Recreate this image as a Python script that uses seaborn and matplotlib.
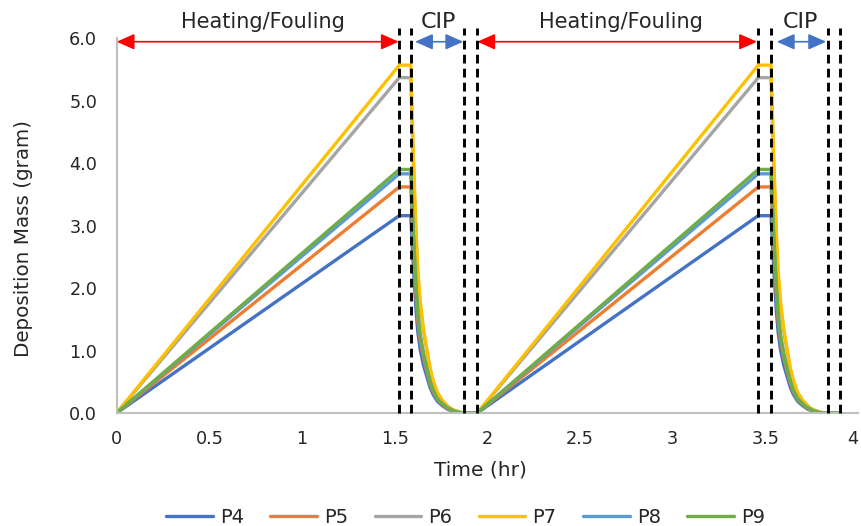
import matplotlib
matplotlib.use("Agg")
import matplotlib.pyplot as plt
import pandas as pd
import seaborn as sns

# ---- data -------------------------------------------------------------
series_names = ["P4", "P5", "P6", "P7", "P8", "P9"]
series_colors = ["#4472C4", "#ED7D31", "#A5A5A5", "#FFC000", "#5B9BD5", "#70AD47"]

# sampling times (hr): start, cycle 1 (ramp end, hold end, CIP decay, idle), cycle 2
time_start = [0.0]
time_cycle1 = [1.525, 1.587, 1.601, 1.615, 1.625, 1.637, 1.655, 1.675, 1.691,
               1.707, 1.730, 1.756, 1.785, 1.815, 1.845, 1.870, 1.946]
time_cycle2 = [3.462, 3.531, 3.545, 3.559, 3.569, 3.581, 3.599, 3.619, 3.635,
               3.651, 3.674, 3.700, 3.729, 3.759, 3.789, 3.814, 3.903]

# deposition mass (gram) over one heating/fouling + CIP cycle
p4_cycle = [3.16, 3.16, 2.34, 1.66, 1.30, 1.03, 0.77, 0.57, 0.41, 0.30, 0.19, 0.12, 0.06, 0.03, 0.01, 0.0, 0.0]
p5_cycle = [3.62, 3.62, 2.68, 1.90, 1.48, 1.18, 0.89, 0.65, 0.47, 0.34, 0.22, 0.14, 0.07, 0.03, 0.01, 0.0, 0.0]
p6_cycle = [5.37, 5.37, 3.97, 2.82, 2.20, 1.75, 1.32, 0.97, 0.70, 0.51, 0.32, 0.20, 0.11, 0.05, 0.02, 0.0, 0.0]
p7_cycle = [5.57, 5.57, 4.12, 2.93, 2.28, 1.81, 1.36, 1.00, 0.72, 0.53, 0.33, 0.21, 0.11, 0.05, 0.02, 0.0, 0.0]
p8_cycle = [3.83, 3.83, 2.83, 2.01, 1.57, 1.25, 0.94, 0.69, 0.50, 0.36, 0.23, 0.15, 0.08, 0.03, 0.01, 0.0, 0.0]
p9_cycle = [3.90, 3.90, 2.89, 2.05, 1.60, 1.27, 0.96, 0.70, 0.51, 0.37, 0.23, 0.15, 0.08, 0.04, 0.01, 0.0, 0.0]

# phase boundaries (hr)
phase_lines = [1.525, 1.587, 1.876, 1.946, 3.462, 3.531, 3.840, 3.903]
heating_spans = [(0.0, 1.522), (1.946, 3.455)]
cip_spans = [(1.610, 1.870), (3.562, 3.828)]
heating_label_x = [0.79, 2.72]
cip_label_x = [1.737, 3.687]

x_ticks = [0, 0.5, 1, 1.5, 2, 2.5, 3, 3.5, 4]
x_tick_labels = ["0", "0.5", "1", "1.5", "2", "2.5", "3", "3.5", "4"]
y_ticks = [0, 1, 2, 3, 4, 5, 6]
y_tick_labels = ["0.0", "1.0", "2.0", "3.0", "4.0", "5.0", "6.0"]

# ---- assemble long-form table -------------------------------------------
times = time_start + time_cycle1 + time_cycle2
cycles = [p4_cycle, p5_cycle, p6_cycle, p7_cycle, p8_cycle, p9_cycle]
rows = []
for name, cyc in zip(series_names, cycles):
    vals = [0.0] + cyc + cyc
    for t, v in zip(times, vals):
        rows.append({"Time": t, "Mass": v, "Series": name})
df = pd.DataFrame(rows)

# ---- figure -------------------------------------------------------------
sns.set_style("white")
plt.rcParams["font.family"] = ["DejaVu Sans"]
text_color = "#262626"
axis_color = "#BFBFBF"

fig = plt.figure(figsize=(8.61, 5.26), dpi=100)
ax = fig.add_axes([0.1355, 0.2148, 0.8610, 0.7124])

sns.lineplot(data=df, x="Time", y="Mass", hue="Series", hue_order=series_names,
             palette=series_colors, estimator=None, sort=False, linewidth=2.4,
             solid_joinstyle="round", solid_capstyle="round", ax=ax, legend=True)

ax.set_xlim(0, 4)
ax.set_ylim(0, 6)
ax.set_xticks(x_ticks)
ax.set_xticklabels(x_tick_labels)
ax.set_yticks(y_ticks)
ax.set_yticklabels(y_tick_labels)
# keep the last x label inside the figure edge
ax.get_xticklabels()[-1].set_horizontalalignment("right")

for side in ["top", "right"]:
    ax.spines[side].set_visible(False)
for side in ["left", "bottom"]:
    ax.spines[side].set_color(axis_color)
    ax.spines[side].set_linewidth(1.5)
ax.tick_params(axis="x", direction="inout", length=9, width=1.3, color=axis_color,
               labelsize=12.7, labelcolor=text_color, pad=8)
ax.tick_params(axis="y", direction="out", length=5, width=1.3, color=axis_color,
               labelsize=12.7, labelcolor=text_color, pad=9)

ax.set_xlabel("Time (hr)", fontsize=14.5, color=text_color)
ax.set_ylabel("Deposition Mass (gram)", fontsize=14.3, color=text_color)
ax.xaxis.set_label_coords(0.491, -0.128)
ax.yaxis.set_label_coords(-0.113, 0.466)

# phase boundary lines
for x in phase_lines:
    ax.axvline(x, ymin=0, ymax=1.028, color="black", linewidth=2.1,
               linestyle=(0, (3, 1.8)), clip_on=False, zorder=5)

# phase arrows and labels
arrow_y = 5.945
label_y = 6.16
arrow_style = "<|-|>,head_length=0.45,head_width=0.2"
for (a, b), lx in zip(heating_spans, heating_label_x):
    ax.annotate("", xy=(b, arrow_y), xytext=(a, arrow_y), annotation_clip=False,
                arrowprops=dict(arrowstyle=arrow_style, color="#FF0000", lw=1.2,
                                mutation_scale=24, shrinkA=0, shrinkB=0))
    ax.text(lx, label_y, "Heating/Fouling", ha="center", va="baseline",
            fontsize=15, color=text_color, clip_on=False)
for (a, b), lx in zip(cip_spans, cip_label_x):
    ax.annotate("", xy=(b, arrow_y), xytext=(a, arrow_y), annotation_clip=False,
                arrowprops=dict(arrowstyle=arrow_style, color="#4472C4", lw=1.2,
                                mutation_scale=24, shrinkA=0, shrinkB=0))
    ax.text(lx, label_y, "CIP", ha="center", va="baseline",
            fontsize=16, color=text_color, clip_on=False)

# legend below the plot
handles, labels = ax.get_legend_handles_labels()
ax.get_legend().remove()
fig.legend(handles, labels, loc="center", bbox_to_anchor=(0.5407, 0.016), ncol=6,
           frameon=False, fontsize=14, handlelength=2.4, columnspacing=1.35,
           handletextpad=0.37, labelcolor=text_color, borderpad=0.1)

fig.savefig("out.png", dpi=100)
